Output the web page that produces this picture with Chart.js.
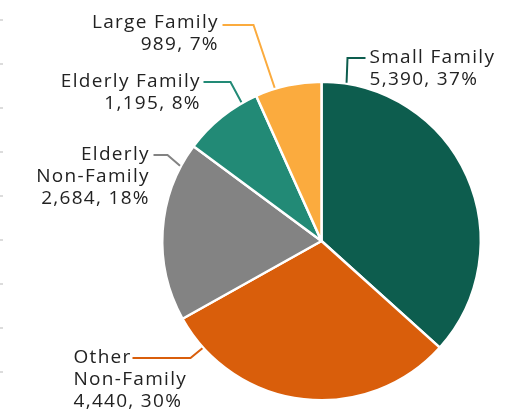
<!DOCTYPE html>
<html>
<head>
<meta charset="utf-8">
<script src="https://cdn.jsdelivr.net/npm/chart.js@4/dist/chart.umd.min.js"></script>
<style>
  html, body { margin: 0; padding: 0; background: #fff; }
  #wrap { width: 526px; height: 411px; }
</style>
</head>
<body>
<div id="wrap"><canvas id="graph_pie"></canvas></div>
<script>
/*------------------------------*/
/*     DONNEES                  */
/*------------------------------*/
var categories = ['Small Family', 'Other Non-Family', 'Elderly Non-Family', 'Elderly Family', 'Large Family']
var labelLines = [['Small Family'], ['Other', 'Non-Family'], ['Elderly', 'Non-Family'], ['Elderly Family'], ['Large Family']]
var households = [5390, 4440, 2684, 1195, 989]
var percents = [37, 30, 18, 8, 7]
var colors = ['#0d5d4e', '#d95e0b', '#838383', '#228a76', '#fbab3e']

/*------------------------------*/
/*     ETIQUETTES               */
/*------------------------------*/
// angle (degres depuis le haut) du depart du trait, coude et texte relatifs au centre
var callouts = [
  { angle: 9,   elbow: [26, -183],  end: 44,   textX: 48,   textY: -183, align: 'left' },
  { angle: 228, elbow: [-131, 117], end: -189, textX: -248, textY: 117,  align: 'left' },
  { angle: 298, elbow: [-154, -86], end: -168, textX: -173, textY: -86,  align: 'right' },
  { angle: 330, elbow: [-91, -159], end: -118, textX: -122, textY: -159, align: 'right' },
  { angle: 343, elbow: [-68, -216], end: -99,  textX: -104, textY: -218, align: 'right' }
]

function fmt(n) {
  return n.toLocaleString('en-US')
}

var calloutPlugin = {
  id: 'callouts',
  afterDatasetsDraw: function(chart) {
    var ctx = chart.ctx
    var meta = chart.getDatasetMeta(0)
    meta.data.forEach(function(arc, i) {
      var c = callouts[i]
      var cx = arc.x, cy = arc.y, r = arc.outerRadius
      var a = (c.angle - 90) * Math.PI / 180
      var sx = cx + Math.cos(a) * (r + 1)
      var sy = cy + Math.sin(a) * (r + 1)
      ctx.save()
      ctx.strokeStyle = colors[i]
      ctx.lineWidth = 2
      ctx.beginPath()
      ctx.moveTo(sx, sy)
      ctx.lineTo(cx + c.elbow[0], cy + c.elbow[1])
      ctx.lineTo(cx + c.end, cy + c.elbow[1])
      ctx.stroke()

      ctx.fillStyle = '#222'
      ctx.font = '19px "Open Sans", sans-serif'
      ctx.letterSpacing = '1.3px'
      ctx.textBaseline = 'middle'
      ctx.textAlign = c.align
      var lines = labelLines[i].concat([fmt(households[i]) + ', ' + percents[i] + '%'])
      lines.forEach(function(t, k) {
        // l'espacement ajoute un blanc apres la derniere lettre en alignement droit
        var x = cx + c.textX + (c.align === 'right' ? 1.3 : 0)
        ctx.fillText(t, x, cy + c.textY + k * 22)
      })
      ctx.restore()
    })
  }
}

// petits reperes gris sur le bord gauche
var edgeTicks = {
  id: 'edgeTicks',
  beforeDraw: function(chart) {
    var ctx = chart.ctx
    ctx.save()
    ctx.fillStyle = '#dcdcdc'
    for (var y = 20; y < chart.height; y += 44) {
      ctx.fillRect(0, y - 1, 3, 2)
    }
    ctx.restore()
  }
}

/*------------------------------*/
/*     GRAPHIQUE                */
/*------------------------------*/
var ctx_pie = document.getElementById('graph_pie').getContext('2d')

var data_pie = {
  labels: categories,
  datasets: [
    {
      label: 'Households',
      data: households,
      backgroundColor: colors,
      borderColor: '#ffffff',
      borderWidth: 2.5
    }
  ]
}

var config_pie = {
  type: 'pie',
  data: data_pie,
  options: {
    responsive: true,
    maintainAspectRatio: false,
    animation: false,
    layout: {
      padding: { top: 80, bottom: 9, left: 161, right: 44 }
    },
    plugins: {
      legend: { display: false },
      tooltip: { enabled: false }
    }
  },
  plugins: [edgeTicks, calloutPlugin]
}
var graph_pie = new Chart(ctx_pie, config_pie)
</script>
</body>
</html>
